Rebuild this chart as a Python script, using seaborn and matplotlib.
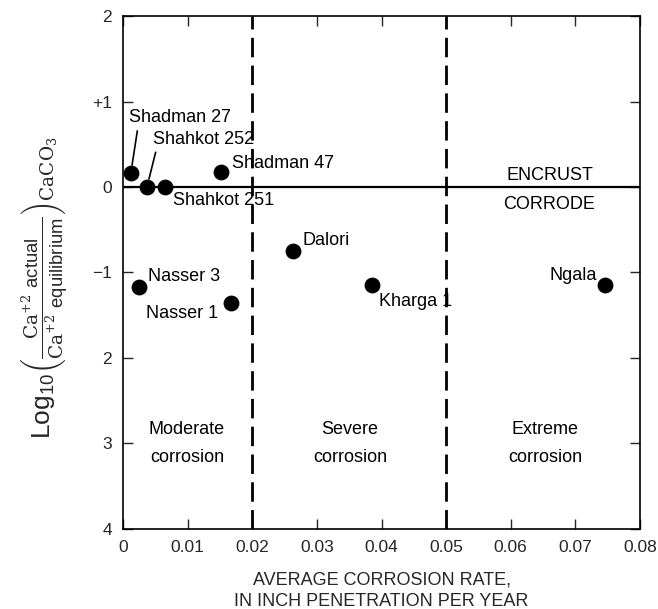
import matplotlib
matplotlib.use("Agg")
import matplotlib.pyplot as plt
import seaborn as sns
import pandas as pd

# Wells: average corrosion rate vs. calcium carbonate saturation index
wells = ["Shadman 27", "Shahkot 252", "Shahkot 251", "Shadman 47", "Dalori",
         "Kharga 1", "Ngala", "Nasser 3", "Nasser 1"]
corrosion_rate = [0.0012, 0.0037, 0.0065, 0.0152, 0.0263, 0.0385, 0.0746, 0.0025, 0.0167]
log_saturation = [0.16, 0.0, 0.0, 0.17, -0.75, -1.15, -1.15, -1.17, -1.36]

# Corrosion class boundaries (inch penetration per year)
class_bounds = [0.02, 0.05]
class_names = ["Moderate\ncorrosion", "Severe\ncorrosion", "Extreme\ncorrosion"]

x_ticks = [0, 0.01, 0.02, 0.03, 0.04, 0.05, 0.06, 0.07, 0.08]
x_tick_labels = ["0", "0.01", "0.02", "0.03", "0.04", "0.05", "0.06", "0.07", "0.08"]
y_ticks = [2, 1, 0, -1, -2, -3, -4]
y_tick_labels = ["2", "+1", "0", "\u22121", "2", "3", "4"]

df = pd.DataFrame({"well": wells, "rate": corrosion_rate, "index": log_saturation})

sns.set_style("ticks")
plt.rcParams["font.family"] = ["Liberation Sans", "DejaVu Sans"]
plt.rcParams["mathtext.fontset"] = "custom"
plt.rcParams["mathtext.rm"] = "DejaVu Serif"
plt.rcParams["mathtext.sf"] = "Liberation Sans"

fig = plt.figure(figsize=(6.58, 6.09), dpi=100)
ax = fig.add_axes([0.187, 0.1314, 0.7856, 0.8423])

# Zero line separating encrusting from corrosive waters
ax.axhline(0, color="black", lw=1.6, zorder=1)
for b in class_bounds:
    ax.axvline(b, color="black", lw=2.0, ls=(0, (7, 3)), zorder=1)

sns.scatterplot(data=df, x="rate", y="index", ax=ax, color="black", s=130,
                edgecolor="black", linewidth=0, zorder=3, legend=False)

label_kw = dict(fontsize=13, color="black")
pts = dict(zip(wells, zip(corrosion_rate, log_saturation)))

ax.annotate("Shadman 27", xy=pts["Shadman 27"], xytext=(0.0009, 0.81),
            ha="left", va="center", **label_kw,
            arrowprops=dict(arrowstyle="-", color="black", lw=1.2,
                            relpos=(0.09, 0.0), shrinkA=1, shrinkB=6))
ax.annotate("Shahkot 252", xy=pts["Shahkot 252"], xytext=(0.0046, 0.56),
            ha="left", va="center", **label_kw,
            arrowprops=dict(arrowstyle="-", color="black", lw=1.2,
                            relpos=(0.04, 0.0), shrinkA=1, shrinkB=6))
ax.text(0.0168, 0.28, "Shadman 47", ha="left", va="center", **label_kw)
ax.text(0.0078, -0.16, "Shahkot 251", ha="left", va="center", **label_kw)
ax.text(0.0277, -0.63, "Dalori", ha="left", va="center", **label_kw)
ax.text(0.0396, -1.34, "Kharga 1", ha="left", va="center", **label_kw)
ax.text(0.0733, -1.04, "Ngala", ha="right", va="center", **label_kw)
ax.text(0.0039, -1.05, "Nasser 3", ha="left", va="center", **label_kw)
ax.text(0.0036, -1.48, "Nasser 1", ha="left", va="center", **label_kw)

ax.text(0.0661, 0.13, "ENCRUST", ha="center", va="center", **label_kw)
ax.text(0.0659, -0.21, "CORRODE", ha="center", va="center", **label_kw)

for xc, name in zip([0.0099, 0.0351, 0.0653], class_names):
    ax.text(xc, -3.0, name, ha="center", va="center", linespacing=1.9, **label_kw)

ax.set_xlim(0, 0.08)
ax.set_ylim(-4, 2)
ax.set_xticks(x_ticks)
ax.set_xticklabels(x_tick_labels, fontsize=12.5)
ax.set_yticks(y_ticks)
ax.set_yticklabels(y_tick_labels, fontsize=12.5)
ax.tick_params(direction="in", length=7, width=1, top=True, right=True, pad=8)

for sp in ax.spines.values():
    sp.set_linewidth(1.2)
    sp.set_color("black")

ax.set_xlabel("AVERAGE CORROSION RATE,\nIN INCH PENETRATION PER YEAR",
              fontsize=13, labelpad=12, linespacing=1.35)
ax.set_ylabel(r"$\mathsf{Log}_{\mathsf{10}}\left(\frac{\mathrm{Ca}^{+2}\ \mathsf{actual}}"
              r"{\mathrm{Ca}^{+2}\ \mathsf{equilibrium}}\right)_{\mathrm{CaCO_3}}$",
              fontsize=19)
ax.yaxis.set_label_coords(-0.1, 0.47)

fig.savefig("out.png", dpi=100)
